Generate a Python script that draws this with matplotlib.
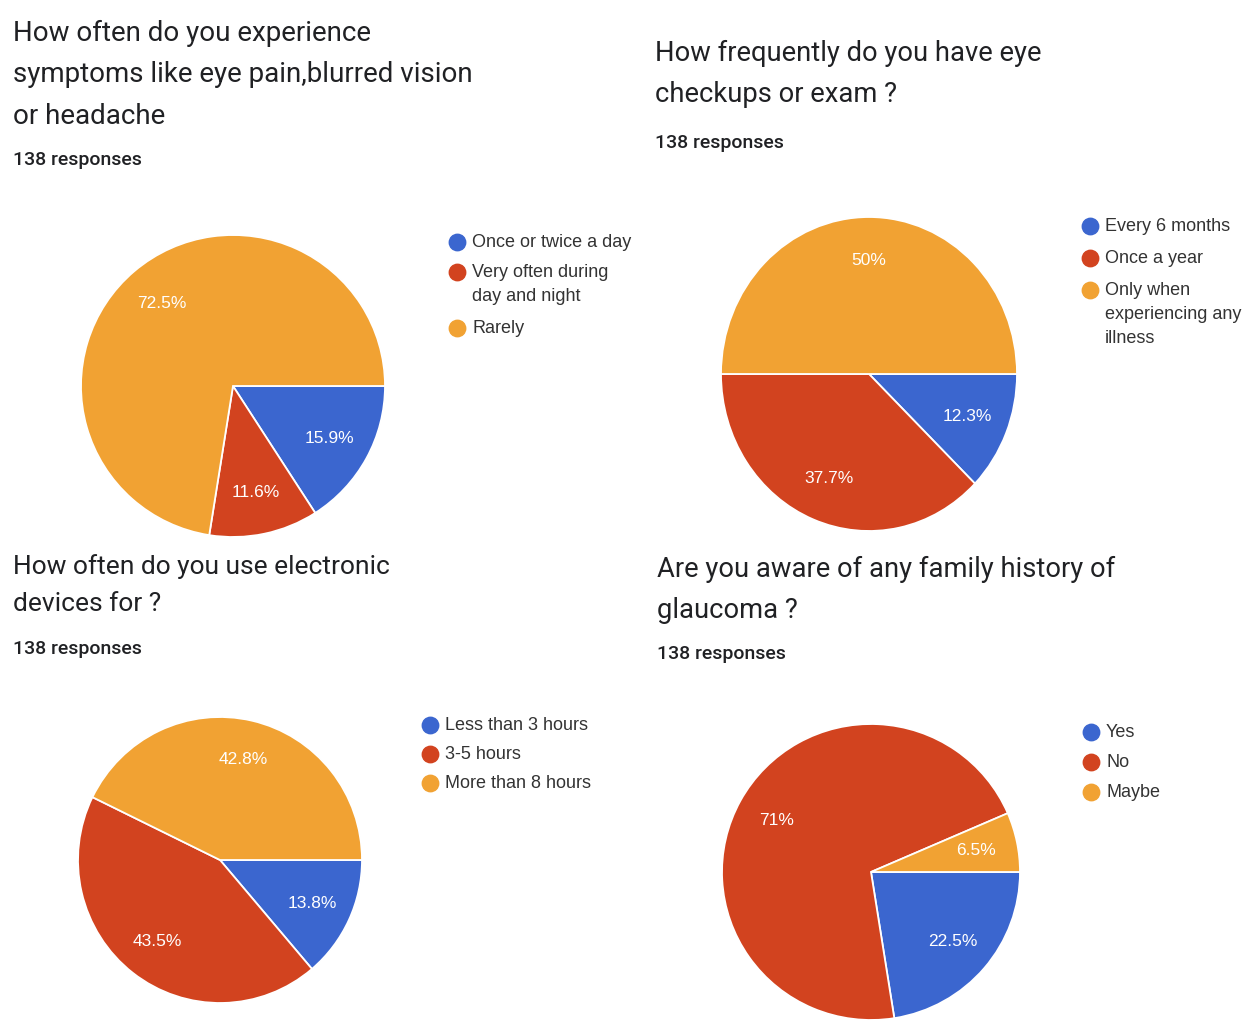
"""Four Google Forms style pie charts about eye health survey answers."""

import matplotlib

matplotlib.use("Agg")
import matplotlib.pyplot as plt

W, H = 1245, 1021

BLUE, RED, ORANGE = "#3b66cf", "#d2431f", "#f1a233"
COLORS = [BLUE, RED, ORANGE]

# survey answers (percent of 138 responses)
symptoms_labels = ["Once or twice a day", "Very often during\nday and night", "Rarely"]
symptoms_values = [15.9, 11.6, 72.5]

checkup_labels = ["Every 6 months", "Once a year", "Only when\nexperiencing any\nillness"]
checkup_values = [12.3, 37.7, 50.0]

devices_labels = ["Less than 3 hours", "3-5 hours", "More than 8 hours"]
devices_values = [13.8, 43.5, 42.8]

glaucoma_labels = ["Yes", "No", "Maybe"]
glaucoma_values = [22.5, 71.0, 6.5]

titles = [
    "How often do you experience\nsymptoms like eye pain,blurred vision\nor headache",
    "How frequently do you have eye\ncheckups or exam ?",
    "How often do you use electronic\ndevices for ?",
    "Are you aware of any family history of\nglaucoma ?",
]
responses = "138 responses"

# layout in pixels: pie centre, radii (the source image is slightly stretched),
# title anchor and size, responses y, legend anchor, legend row ys
panels = [
    dict(values=symptoms_values, labels=symptoms_labels, center=(233, 386), r=(152, 151),
         title=(13, 20), tsize=20, resp_y=160, leg_x=457, leg_ys=[242, 272, 328]),
    dict(values=checkup_values, labels=checkup_labels, center=(869, 374), r=(148, 157),
         title=(655, 40), tsize=19.7, resp_y=143, leg_x=1090, leg_ys=[226, 258, 290]),
    dict(values=devices_values, labels=devices_labels, center=(220, 860), r=(142, 143),
         title=(13, 554), tsize=19, resp_y=649, leg_x=430, leg_ys=[725, 754, 783]),
    dict(values=glaucoma_values, labels=glaucoma_labels, center=(871, 872), r=(149, 148),
         title=(657, 556), tsize=19.7, resp_y=654, leg_x=1091, leg_ys=[732, 762, 792]),
]

fig = plt.figure(figsize=(W / 100, H / 100), dpi=100)
fig.patch.set_facecolor("white")

# overlay in pixel coordinates for titles and legends
over = fig.add_axes([0, 0, 1, 1])
over.set_xlim(0, W)
over.set_ylim(H, 0)
over.axis("off")

for i, p in enumerate(panels):
    cx, cy = p["center"]
    rx, ry = p["r"]
    ax = fig.add_axes([(cx - rx) / W, (H - cy - ry) / H, 2 * rx / W, 2 * ry / H])
    wedges, _, autotexts = ax.pie(
        p["values"], colors=COLORS, startangle=0, counterclock=False,
        autopct="%.1f", pctdistance=0.72,
        wedgeprops=dict(edgecolor="white", linewidth=1.3),
        textprops=dict(color="white", fontsize=12.5, family="Liberation Sans"),
    )
    for t, v in zip(autotexts, p["values"]):
        t.set_text(f"{v:g}%")
    ax.set_aspect("auto")
    ax.set_xlim(-1.0, 1.0)
    ax.set_ylim(-1.0, 1.0)
    ax.axis("off")

    tx, ty = p["title"]
    over.text(tx, ty, titles[i], fontsize=p["tsize"], family="Roboto", color="#202124",
              va="top", ha="left", linespacing=1.68)
    over.text(tx, p["resp_y"], responses, fontsize=14, family="Roboto",
              color="#202124", va="center", ha="left", fontweight="medium")

    for lab, y, c in zip(p["labels"], p["leg_ys"], COLORS):
        over.scatter([p["leg_x"]], [y], s=140, color=c, zorder=3)
        over.text(p["leg_x"] + 15, y - 8, lab, fontsize=13, family="Liberation Sans",
                  color="#333333", va="top", ha="left", linespacing=1.55)

fig.savefig("out.png", dpi=100, facecolor="white")
